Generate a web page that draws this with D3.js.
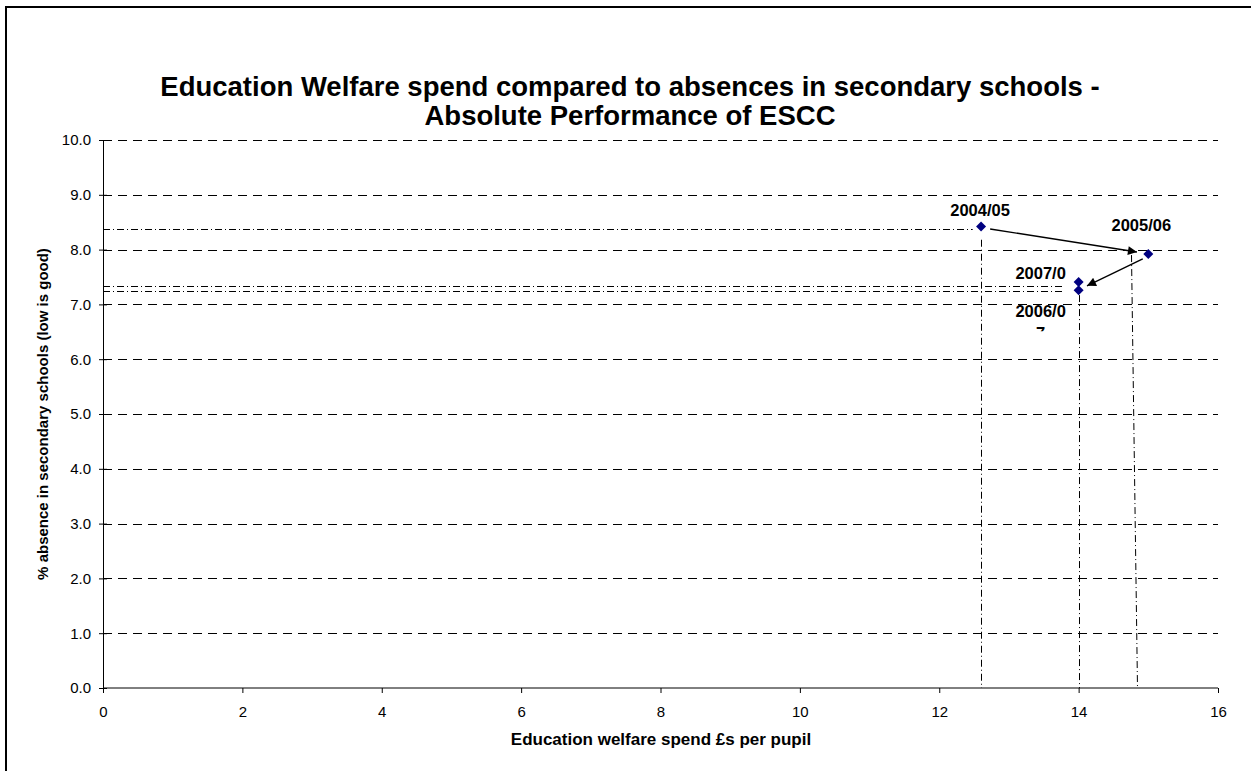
<!DOCTYPE html>
<html>
<head>
<meta charset="utf-8">
<script src="https://cdn.jsdelivr.net/npm/d3@7"></script>
<style>
  body { margin: 0; background: #fff; }
  svg { display: block; font-family: "Liberation Sans", Arial, sans-serif; }
</style>
</head>
<body>
<svg></svg>
<script>
const width = 1251;
const height = 771;

// data
const years = ["2004/05", "2005/06", "2006/07", "2007/08"];
const spend = [12.6, 15.0, 14.0, 14.0];
const absence = [8.42, 7.92, 7.26, 7.41];
const pointLabels = ["2004/05", "2005/06", "2006/0", "2007/0"];

// dash-dot reference lines (chart units)
const hLineY = [8.37, 7.33, 7.24];
const hLineEnd = [12.48, 13.78, 13.78];
const vLineTopX = [12.6, 14.0, 14.75];
const vLineBottomX = [12.6, 14.0, 14.84];
const vLineTop = [8.18, 7.17, 7.9];

// hand drawn arrows (chart units)
const arrowX1 = [12.73, 14.92];
const arrowY1 = [8.376, 7.83];
const arrowX2 = [14.837, 14.12];
const arrowY2 = [7.956, 7.34];

const xTicks = [0, 2, 4, 6, 8, 10, 12, 14, 16];
const yTicks = [0, 1, 2, 3, 4, 5, 6, 7, 8, 9, 10];

let svg = d3.select("svg")
    .attr("width", width)
    .attr("height", height);

// outer chart border (only top/left visible)
svg.append("rect")
    .attr("x", 6)
    .attr("y", 7)
    .attr("width", width + 20)
    .attr("height", height + 20)
    .style("fill", "none")
    .style("stroke", "#000")
    .style("stroke-width", 2);

const margin = {top: 140, right: 33, bottom: 83, left: 103};
const viewWidth = width - margin.left - margin.right;
const viewHeight = height - margin.top - margin.bottom;

svg.append("text")
    .attr("x", 630)
    .attr("y", 96)
    .attr("text-anchor", "middle")
    .style("font-size", "27.5px")
    .style("font-weight", "bold")
    .text("Education Welfare spend compared to absences in secondary schools -");

svg.append("text")
    .attr("x", 630)
    .attr("y", 125)
    .attr("text-anchor", "middle")
    .style("font-size", "27.5px")
    .style("font-weight", "bold")
    .text("Absolute Performance of ESCC");

const g = svg.append("g")
    .attr("transform", "translate(" + margin.left + "," + margin.top + ")");

const x = d3.scaleLinear().domain([0, 16]).range([0, viewWidth]);
const y = d3.scaleLinear().domain([0, 10]).range([viewHeight, 0]);

// gridlines
g.append("g")
    .selectAll("line")
    .data(yTicks.filter(d => d > 0))
    .enter()
    .append("line")
    .attr("x1", 0)
    .attr("x2", viewWidth)
    .attr("y1", d => Math.round(y(d)) + 0.5)
    .attr("y2", d => Math.round(y(d)) + 0.5)
    .style("stroke", "#000")
    .style("stroke-width", 1)
    .style("stroke-dasharray", "9,6");

// dash-dot lines
const drop = g.append("g")
    .style("stroke", "#000")
    .style("stroke-width", 1)
    .style("stroke-dasharray", "7,3,1,3");

drop.selectAll(".h")
    .data(hLineY)
    .enter()
    .append("line")
    .attr("class", "h")
    .attr("x1", 0)
    .attr("x2", (d, i) => x(hLineEnd[i]))
    .attr("y1", d => Math.round(y(d)) + 0.5)
    .attr("y2", d => Math.round(y(d)) + 0.5);

drop.selectAll(".v")
    .data(vLineTop)
    .enter()
    .append("line")
    .attr("class", "v")
    .attr("x1", (d, i) => Math.round(x(vLineTopX[i])) + 0.5)
    .attr("x2", (d, i) => Math.round(x(vLineBottomX[i])) + 0.5)
    .attr("y1", d => y(d))
    .attr("y2", viewHeight);

// axes
const xAxis = g.append("g")
    .attr("transform", "translate(0," + viewHeight + ")")
    .call(d3.axisBottom(x).tickValues(xTicks).tickSize(5).tickPadding(13).tickFormat(d3.format("d")));

const yAxis = g.append("g")
    .call(d3.axisLeft(y).tickValues(yTicks).tickSizeInner(4).tickSizeOuter(0).tickPadding(8).tickFormat(d3.format(".1f")));

yAxis.selectAll(".tick line").attr("x2", 4).attr("x1", -4);

[xAxis, yAxis].forEach(a => {
  a.select(".domain").style("stroke", "#000");
  a.selectAll(".tick line").style("stroke", "#000");
  a.selectAll("text")
    .style("font-size", "15px")
    .style("font-family", "Liberation Sans, Arial, sans-serif")
    .style("fill", "#000");
});
xAxis.select(".domain").attr("d", "M0.5,0H" + viewWidth);

// arrows
svg.append("defs").append("marker")
    .attr("id", "arrow")
    .attr("viewBox", "0 0 10 10")
    .attr("refX", 10)
    .attr("refY", 5)
    .attr("markerWidth", 11)
    .attr("markerHeight", 9)
    .attr("markerUnits", "userSpaceOnUse")
    .attr("orient", "auto")
    .append("path")
    .attr("d", "M0,0L10,5L0,10z")
    .style("fill", "#000");

g.append("g")
    .selectAll("line")
    .data(arrowX1)
    .enter()
    .append("line")
    .attr("x1", d => x(d))
    .attr("y1", (d, i) => y(arrowY1[i]))
    .attr("x2", (d, i) => x(arrowX2[i]))
    .attr("y2", (d, i) => y(arrowY2[i]))
    .style("stroke", "#000")
    .style("stroke-width", 1.4)
    .attr("marker-end", "url(#arrow)");

// points (square diamonds)
g.append("g")
    .selectAll("path")
    .data(years)
    .enter()
    .append("path")
    .attr("d", d3.symbol().type(d3.symbolSquare).size(50))
    .attr("transform", (d, i) => "translate(" + x(spend[i]) + "," + y(absence[i]) + ") rotate(45)")
    .style("fill", "#000080");

// point labels
const labelDx = [-1, -7, -38, -38];
const labelDy = [-11, -23, 27, -3];

g.append("g")
    .selectAll("text")
    .data(pointLabels)
    .enter()
    .append("text")
    .attr("x", (d, i) => x(spend[i]) + labelDx[i])
    .attr("y", (d, i) => y(absence[i]) + labelDy[i])
    .attr("text-anchor", "middle")
    .style("font-size", "16.5px")
    .style("font-weight", "bold")
    .text(d => d);

// wrapped tail of the 2006/07 label, mostly hidden
g.append("clipPath").attr("id", "tail")
    .append("rect")
    .attr("x", x(spend[2]) - 60).attr("y", y(absence[2]) + 36)
    .attr("width", 50).attr("height", 5);

g.append("text")
    .attr("x", x(spend[2]) - 38)
    .attr("y", y(absence[2]) + 49)
    .attr("text-anchor", "middle")
    .attr("clip-path", "url(#tail)")
    .style("font-size", "16.5px")
    .style("font-weight", "bold")
    .text("7");

// axis titles
svg.append("text")
    .attr("x", 661)
    .attr("y", 745)
    .attr("text-anchor", "middle")
    .style("font-size", "17px")
    .style("font-weight", "bold")
    .text("Education welfare spend £s per pupil");

svg.append("text")
    .attr("transform", "translate(48," + (margin.top + viewHeight / 2) + ") rotate(-90)")
    .attr("text-anchor", "middle")
    .style("font-size", "15px")
    .style("font-weight", "bold")
    .text("% absence in secondary schools (low is good)");
</script>
</body>
</html>
